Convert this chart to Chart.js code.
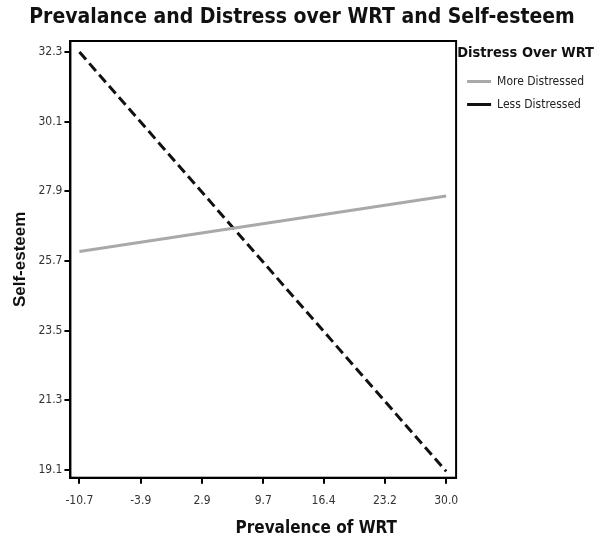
<!DOCTYPE html>
<html>
<head>
<meta charset="utf-8">
<script src="https://cdn.jsdelivr.net/npm/chart.js@4/dist/chart.umd.min.js"></script>
<style>
  html, body { margin: 0; padding: 0; background: #fff; }
  #wrap { width: 601px; height: 542px; }
</style>
</head>
<body>
<div id="wrap"><canvas id="wrtChart"></canvas></div>
<script>
// data
const prevalence = [-10.7, 30.0];
const moreDistressed = [26.0, 27.75];
const lessDistressed = [32.3, 19.05];
const xTicks = [-10.7, -3.9, 2.9, 9.7, 16.4, 23.2, 30.0];
const yTicks = [19.1, 21.3, 23.5, 25.7, 27.9, 30.1, 32.3];

const narrow = "'DejaVu Sans Condensed', 'Liberation Sans', Arial, sans-serif";
const wide = "'Liberation Sans', Arial, sans-serif";
const xTitleFont = { family: narrow, size: 17, weight: 'bold' };

// box round the plot area, and the x title drawn a bit right of centre like the original
const frame = {
  id: 'frame',
  afterDraw(chart) {
    const a = chart.chartArea;
    const ctx = chart.ctx;
    ctx.save();
    ctx.strokeStyle = '#000';
    ctx.lineWidth = 2;
    ctx.strokeRect(a.left, a.top, a.right - a.left, a.bottom - a.top);

    const sc = chart.scales.x;
    ctx.fillStyle = '#111';
    ctx.font = 'bold 17px ' + narrow;
    ctx.textAlign = 'center';
    ctx.textBaseline = 'middle';
    ctx.fillText('Prevalence of WRT', (a.left + a.right) / 2 + 53, sc.bottom - 2 - 10.2);
    ctx.restore();
  }
};

function wrtChart() {
  const ctx = document.getElementById('wrtChart').getContext('2d');
  const chart = new Chart(ctx, {
    type: 'line',
    data: {
      datasets: [
        {
          label: 'More Distressed',
          data: prevalence.map((x, i) => ({ x: x, y: moreDistressed[i] })),
          borderColor: '#a9a9a9',
          backgroundColor: '#a9a9a9',
          borderWidth: 3,
          pointRadius: 0
        },
        {
          label: 'Less Distressed',
          data: prevalence.map((x, i) => ({ x: x, y: lessDistressed[i] })),
          borderColor: '#111',
          backgroundColor: '#111',
          borderWidth: 3,
          borderDash: [10, 5],
          pointRadius: 0
        }
      ]
    },
    options: {
      responsive: true,
      maintainAspectRatio: false,
      animation: false,
      layout: { padding: { left: 10, right: 7, top: 0, bottom: 1.5 } },
      plugins: {
        title: {
          display: true,
          text: 'Prevalance and Distress over WRT and Self-esteem',
          color: '#111',
          font: { family: narrow, size: 21, weight: 'bold' },
          padding: { top: 5, bottom: 10.8 }
        },
        legend: {
          position: 'right',
          align: 'start',
          fullSize: false,
          title: {
            display: true,
            text: 'Distress Over WRT',
            color: '#111',
            position: 'end',
            font: { family: narrow, size: 14.5, weight: 'bold' },
            padding: { top: 5, bottom: 1 }
          },
          labels: {
            usePointStyle: true,
            pointStyle: 'line',
            pointStyleWidth: 24,
            color: '#222',
            font: { family: narrow, size: 12 },
            padding: 11
          }
        },
        tooltip: { enabled: false }
      },
      scales: {
        x: {
          type: 'linear',
          min: -11.7,
          max: 31.1,
          afterBuildTicks: axis => { axis.ticks = xTicks.map(v => ({ value: v })); },
          ticks: {
            autoSkip: false,
            maxRotation: 0,
            color: '#333',
            font: { family: narrow, size: 12 },
            padding: 10,
            callback: v => v.toFixed(1)
          },
          grid: { drawOnChartArea: false, drawTicks: true, tickLength: 6, color: '#000', lineWidth: 2 },
          border: { display: true, color: '#000', width: 2 },
          title: {
            // space is kept here; the text itself is drawn by the frame plugin
            display: true,
            text: 'Prevalence of WRT',
            color: 'rgba(0,0,0,0)',
            font: xTitleFont,
            padding: { top: 0, bottom: 2 }
          }
        },
        y: {
          type: 'linear',
          min: 18.85,
          max: 32.65,
          afterBuildTicks: axis => { axis.ticks = yTicks.map(v => ({ value: v })); },
          ticks: {
            autoSkip: false,
            color: '#333',
            font: { family: narrow, size: 12 },
            padding: 2,
            callback: v => v.toFixed(1)
          },
          grid: { drawOnChartArea: false, drawTicks: true, tickLength: 6, color: '#000', lineWidth: 2 },
          border: { display: true, color: '#000', width: 2 },
          title: {
            display: true,
            text: 'Self-esteem',
            color: '#111',
            font: { family: wide, size: 17, weight: 'bold' },
            padding: { top: 0, bottom: 6 }
          }
        }
      }
    },
    plugins: [frame]
  });
}
wrtChart()
</script>
</body>
</html>
